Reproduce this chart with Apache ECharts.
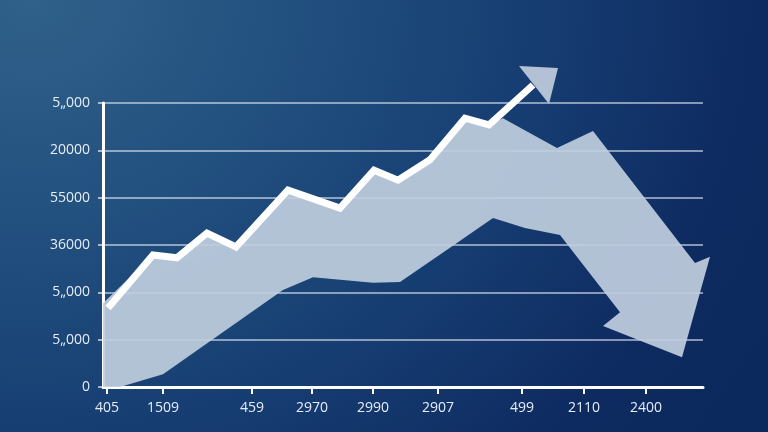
<!DOCTYPE html>
<html>
<head>
<meta charset="utf-8">
<script src="https://cdn.jsdelivr.net/npm/echarts@6/dist/echarts.min.js"></script>
<style>
  html, body { margin: 0; padding: 0; }
  #chart {
    width: 768px; height: 432px;
    background: radial-gradient(ellipse 110% 170% at 4% 0%, #30618a 0%, #22507f 30%, #163d72 60%, #0e2b61 85%, #0c295d 100%);
  }
</style>
</head>
<body>
<div id="chart"></div>
<script>
// tick positions on the x scale and the texts printed under them
var xTickPos = [4, 60, 149, 209, 270, 335, 419, 481, 543];
var xTickLabels = ['405', '1509', '459', '2970', '2990', '2907', '499', '2110', '2400'];
// y labels, bottom to top (one per 10 units)
var yTickLabels = ['0', '5„000', '5„000', '36000', '55000', '20000', '5„000'];

// white rising line
var risingLine = [
  [5, 16.7], [50, 27.9], [74, 27.3], [104, 32.5], [133, 29.6], [185, 41.6],
  [237, 37.8], [271, 45.8], [295, 43.7], [327, 48.0], [362, 56.8], [386, 55.4], [430, 63.8]
];
// arrow head at the end of the white line
var upArrowHead = [[416, 67.8], [455, 67.4], [446, 59.8]];
// grey band that turns into the falling arrow
var bandOutline = [
  [0, 17.7], [50, 27.9], [74, 27.3], [104, 32.5], [133, 29.6], [185, 41.6],
  [237, 37.8], [271, 45.8], [295, 43.7], [327, 48.0], [362, 56.8], [386, 55.4],
  [400, 56.8], [454, 50.5], [490, 54.1], [592, 26.2], [607, 27.5], [579, 6.3],
  [500, 12.9], [517, 15.8], [457, 32.1], [422, 33.6], [390, 35.7], [347, 29.4],
  [297, 22.2], [270, 22.0], [210, 23.2], [180, 20.5], [60, 2.7], [17, 0], [0, 0]
];

var chart = echarts.init(document.getElementById('chart'), null, { renderer: 'canvas' });

var labelFont = { color: '#e6edf5', fontFamily: 'Open Sans', fontSize: 14 };

var option = {
  backgroundColor: 'transparent',
  animation: false,
  grid: { left: 103, right: 65, top: 103, bottom: 45 },
  xAxis: {
    type: 'value',
    min: 0,
    max: 600,
    axisLine: { show: true, lineStyle: { color: '#ffffff', width: 3 } },
    axisTick: { show: true, customValues: xTickPos, length: 7, lineStyle: { color: '#ffffff', width: 2 } },
    axisLabel: Object.assign({
      customValues: xTickPos,
      margin: 14,
      formatter: function (v) {
        var i = xTickPos.indexOf(v);
        return i >= 0 ? xTickLabels[i] : '';
      }
    }, labelFont),
    splitLine: { show: false }
  },
  yAxis: {
    type: 'value',
    min: 0,
    max: 60,
    interval: 10,
    axisLine: { show: true, lineStyle: { color: '#ffffff', width: 3 } },
    axisTick: { show: true, length: 5, lineStyle: { color: 'rgba(255,255,255,0.8)', width: 1.5 } },
    axisLabel: Object.assign({
      margin: 13,
      formatter: function (v) { return yTickLabels[Math.round(v / 10)]; }
    }, labelFont),
    splitLine: { show: true, lineStyle: { color: 'rgba(230,238,248,0.75)', width: 1.5 } }
  },
  series: [
    {
      type: 'custom',
      clip: false,
      silent: true,
      data: [[0, 0]],
      renderItem: function (params, api) {
        return {
          type: 'polygon',
          shape: { points: bandOutline.map(function (p) { return api.coord(p); }) },
          style: { fill: 'rgba(192,206,222,0.92)' }
        };
      }
    },
    {
      type: 'line',
      clip: false,
      silent: true,
      showSymbol: false,
      data: risingLine,
      lineStyle: { color: '#ffffff', width: 7, join: 'miter', cap: 'butt' }
    },
    {
      type: 'custom',
      clip: false,
      silent: true,
      data: [[0, 0]],
      renderItem: function (params, api) {
        return {
          type: 'polygon',
          shape: { points: upArrowHead.map(function (p) { return api.coord(p); }) },
          style: { fill: '#b2c1d3' }
        };
      }
    }
  ]
};

chart.setOption(option);
</script>
</body>
</html>
